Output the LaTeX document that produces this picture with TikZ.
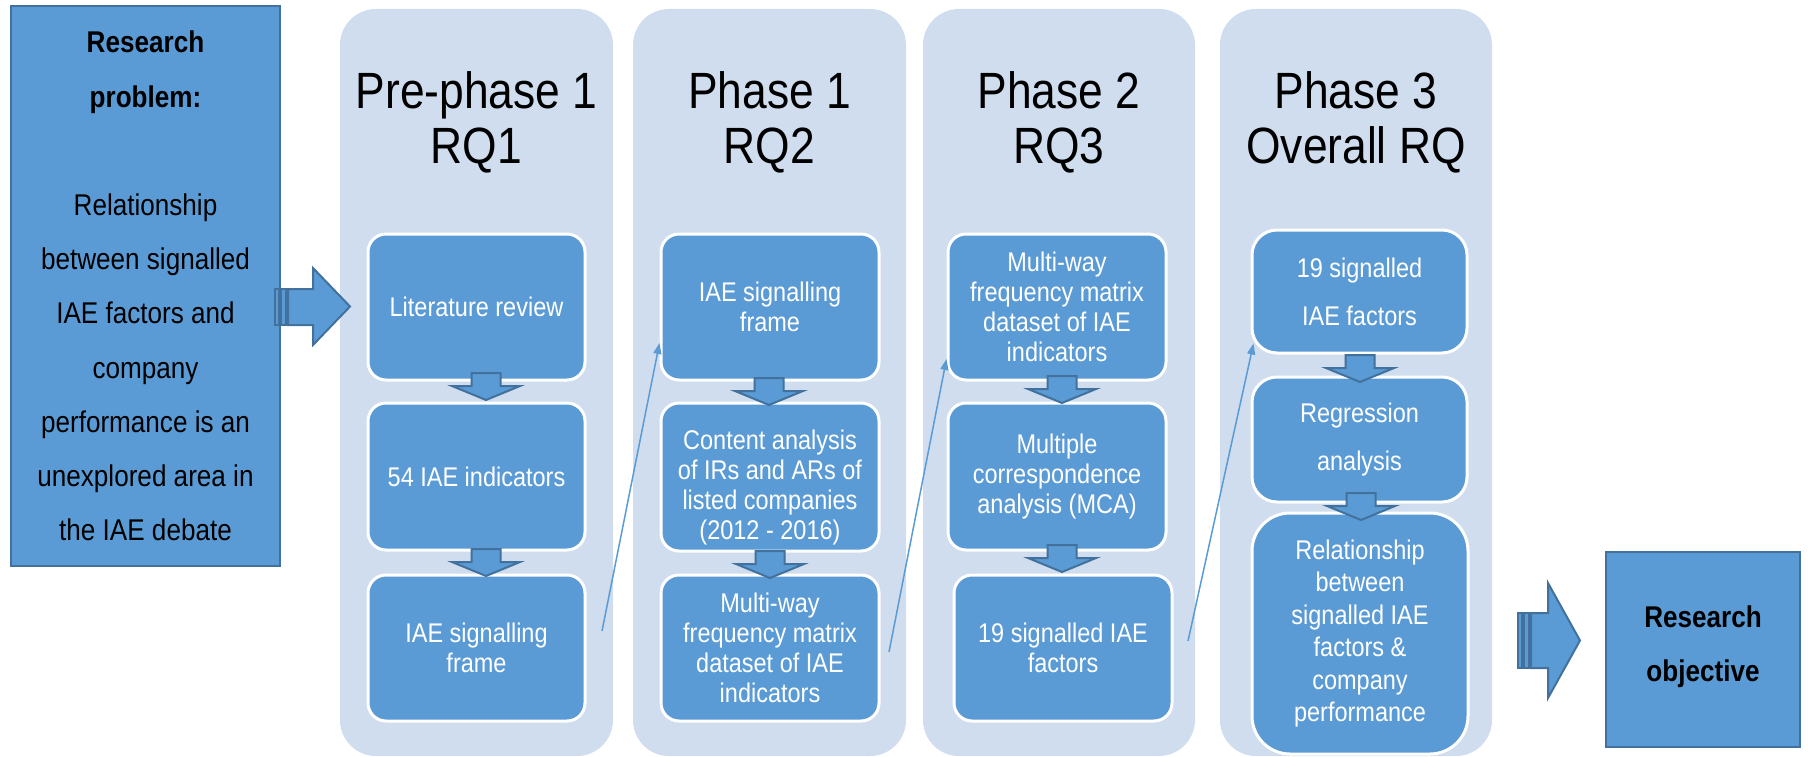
\documentclass[tikz,border=0pt]{standalone}
\usepackage{fontspec}
\setmainfont{Liberation Sans}[FakeStretch=0.87]
\usetikzlibrary{arrows.meta,calc}
\definecolor{panelc}{HTML}{CFDDEE}
\definecolor{boxc}{HTML}{5B9BD5}
\definecolor{edgec}{HTML}{41719C}

\begin{document}
\begin{tikzpicture}[x=1pt,y=-1pt,
  panel/.style={fill=panelc, rounded corners=36pt, inner sep=0pt},
  title/.style={align=center, font=\fontsize{51}{55}\selectfont, text=black},
  stepbox/.style={fill=boxc, draw=white, line width=3pt, rounded corners=18pt,
    text=white, align=center, inner sep=0pt, font=\fontsize{27}{30}\selectfont},
  endbox/.style={fill=boxc, draw=edgec, line width=2pt, align=center, inner sep=0pt,
    font=\fontsize{30}{54.2}\selectfont},
  blockarrow/.style={fill=boxc, draw=edgec, line width=2pt, line join=miter},
  link/.style={draw=boxc, line width=1.5pt, -{Triangle[length=11pt,width=8pt]}},
  darrow/.pic={\path[blockarrow] (-14.5,0) -- (14.5,0) -- (14.5,13) -- (34,13)
    -- (0,27) -- (-34,13) -- (-14.5,13) -- cycle;},
]
\useasboundingbox (0,0) rectangle (1808,757);

% phase panels
\node[panel, minimum width=273pt, minimum height=747pt] (pan1) at (476.5,382.5) {};
\node[panel, minimum width=273pt, minimum height=747pt] (pan2) at (769.5,382.5) {};
\node[panel, minimum width=272pt, minimum height=747pt] (pan3) at (1059,382.5) {};
\node[panel, minimum width=272pt, minimum height=747pt] (pan4) at (1356,382.5) {};

% panel headings
\node[title] (t1) at (476.5,122) {Pre-phase 1\\RQ1};
\node[title] (t2) at (769.5,122) {Phase 1\\RQ2};
\node[title] (t3) at (1059,122) {Phase 2\\RQ3};
\node[title] (t4) at (1356,122) {Phase 3\\Overall RQ};

% pre-phase 1
\node[stepbox, minimum width=217pt, minimum height=146pt] (p1a) at (476.5,307) {Literature review};
\node[stepbox, minimum width=217pt, minimum height=147pt] (p1b) at (476.5,476.5) {54 IAE indicators};
\node[stepbox, minimum width=217pt, minimum height=146pt] (p1c) at (476.5,648) {IAE signalling\\frame};

% phase 1 (the strut lowers the four-line block a little)
\node[stepbox, minimum width=218pt, minimum height=146pt] (p2a) at (770,307) {IAE signalling\\frame};
\node[stepbox, minimum width=218pt, minimum height=148pt] (p2b) at (770,477) {\rule{0pt}{40pt}Content analysis\\of IRs and ARs of\\listed companies\\(2012 - 2016)};
\node[stepbox, minimum width=218pt, minimum height=146pt] (p2c) at (770,648) {Multi-way\\frequency matrix\\dataset of IAE\\indicators};

% phase 2
\node[stepbox, minimum width=218pt, minimum height=146pt] (p3a) at (1057,307) {Multi-way\\frequency matrix\\dataset of IAE\\indicators};
\node[stepbox, minimum width=218pt, minimum height=147pt] (p3b) at (1057,476.5) {Multiple\\correspondence\\analysis (MCA)};
\node[stepbox, minimum width=218pt, minimum height=146pt] (p3c) at (1063,648) {19 signalled IAE\\factors};

% phase 3
\node[stepbox, rounded corners=25pt, minimum width=215pt, minimum height=123pt,
  font=\fontsize{27}{48}\selectfont] (p4a) at (1359.5,291.5) {19 signalled\\IAE factors};
\node[stepbox, rounded corners=25pt, minimum width=215pt, minimum height=125pt,
  font=\fontsize{27}{48}\selectfont] (p4b) at (1359.5,439.5) {Regression\\analysis};
\node[stepbox, rounded corners=38pt, minimum width=216pt, minimum height=241pt,
  font=\fontsize{27}{32.5}\selectfont] (p4c) at (1360,633.5) {Relationship\\between\\signalled IAE\\factors \&\\company\\performance};

% links between phases
\coordinate (s1) at (602,631);
\coordinate (s2) at (889,652);
\coordinate (s3) at (1188,641);
\draw[link] (s1) -- ($(p2a.west)+(0,36)$);
\draw[link] (s2) -- ($(p3a.west)+(0,52)$);
\draw[link] (s3) -- ($(p4a.west)+(3,52)$);

% step arrows inside the panels
\pic at (486,373) {darrow};
\pic at (486,549) {darrow};
\pic at (769,378) {darrow};
\pic at (770,551) {darrow};
\pic at (1062,376) {darrow};
\pic at (1062,545) {darrow};
\pic at (1360,355) {darrow};
\pic at (1361,493) {darrow};

% research problem and objective
\node[endbox, minimum width=269pt, minimum height=560pt] (prob) at (145.5,286)
  {\textbf{Research}\\\textbf{problem:}\\[54.2pt]Relationship\\between signalled\\IAE factors and\\company\\performance is an\\unexplored area in\\the IAE debate};
\node[endbox, minimum width=194pt, minimum height=195pt,
  font=\bfseries\fontsize{30}{54}\selectfont] (obj) at (1703,649.5) {Research\\objective\rule[-12pt]{0pt}{0pt}};

% striped block arrows
\path[blockarrow] (275,289) rectangle (279,325);
\path[blockarrow] (281,289) rectangle (286,325);
\path[blockarrow] (288,289) -- (313,289) -- (313,268) -- (350,306.5)
  -- (313,345) -- (313,325) -- (288,325) -- cycle;
\path[blockarrow] (1518,613) rectangle (1522,668);
\path[blockarrow] (1524,613) rectangle (1529,668);
\path[blockarrow] (1531,613) -- (1548,613) -- (1548,583) -- (1580,640.5)
  -- (1548,698) -- (1548,668) -- (1531,668) -- cycle;
\end{tikzpicture}
\end{document}
